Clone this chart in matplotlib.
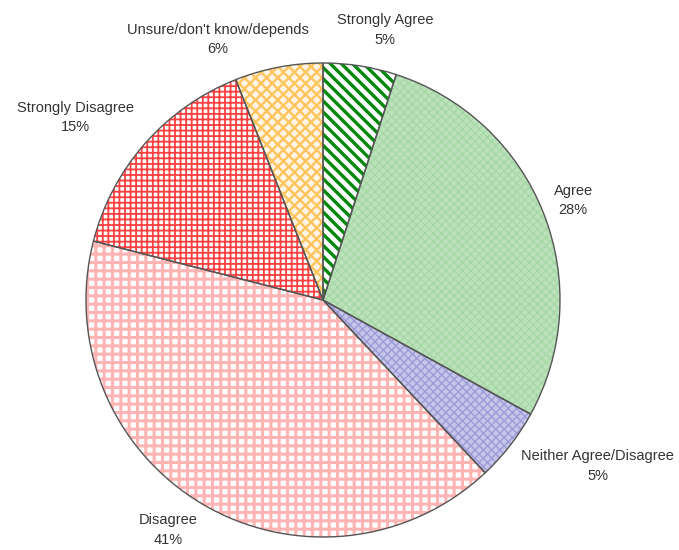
import matplotlib
matplotlib.use('Agg')
import matplotlib.pyplot as plt

labels = ['Strongly Agree', 'Agree', 'Neither Agree/Disagree', 'Disagree',
          'Strongly Disagree', "Unsure/don't know/depends"]
values = [5, 28, 5, 41, 15, 6]

# face colour, hatch pattern, hatch colour, hatch width
styles = [
    ('white', '\\\\\\', '#00880a', 2.4),
    ('#bce2bc', 'xxxx', '#a6d8a6', 1.0),
    ('#c6c6eb', 'xxxx', '#9c9cd8', 1.0),
    ('white', '++', '#ffb4b4', 2.2),
    ('white', '+++', '#ff4040', 1.3),
    ('#fff5e2', 'xxx', '#ffc45e', 1.7),
]

# label anchor points in pie units (radius = 1)
label_pos = [(0.262, 1.14), (1.055, 0.42), (1.16, -0.70),
             (-0.654, -0.97), (-1.046, 0.77), (-0.443, 1.10)]

plt.rcParams['font.family'] = ['Liberation Sans', 'DejaVu Sans']
plt.rcParams['hatch.linewidth'] = 1.5

fig = plt.figure(figsize=(6.79, 5.5), dpi=100)
ax = fig.add_axes([0, 0, 1, 1])

wedges, _ = ax.pie(values, startangle=90, counterclock=False, radius=1,
                   wedgeprops=dict(linewidth=0))
for w, (fc, hatch, hc, hlw) in zip(wedges, styles):
    w.set_facecolor(fc)
    w.set_edgecolor(hc)
    w.set_hatch(hatch)
    if hasattr(w, 'set_hatch_linewidth'):
        w.set_hatch_linewidth(hlw)

# outlines on top
ax.pie(values, startangle=90, counterclock=False, radius=1,
       wedgeprops=dict(fill=False, edgecolor='#555555', linewidth=1.0))

for lab, v, (x, y) in zip(labels, values, label_pos):
    ax.text(x, y, '%s\n%d%%' % (lab, v), ha='center', va='center',
            fontsize=10.5, color='#333333', linespacing=1.5)

ax.set_xlim(-323 / 237, (679 - 323) / 237)
ax.set_ylim(-250 / 237, 300 / 237)
ax.set_aspect('auto')
ax.axis('off')

fig.savefig('out.png', dpi=100)
